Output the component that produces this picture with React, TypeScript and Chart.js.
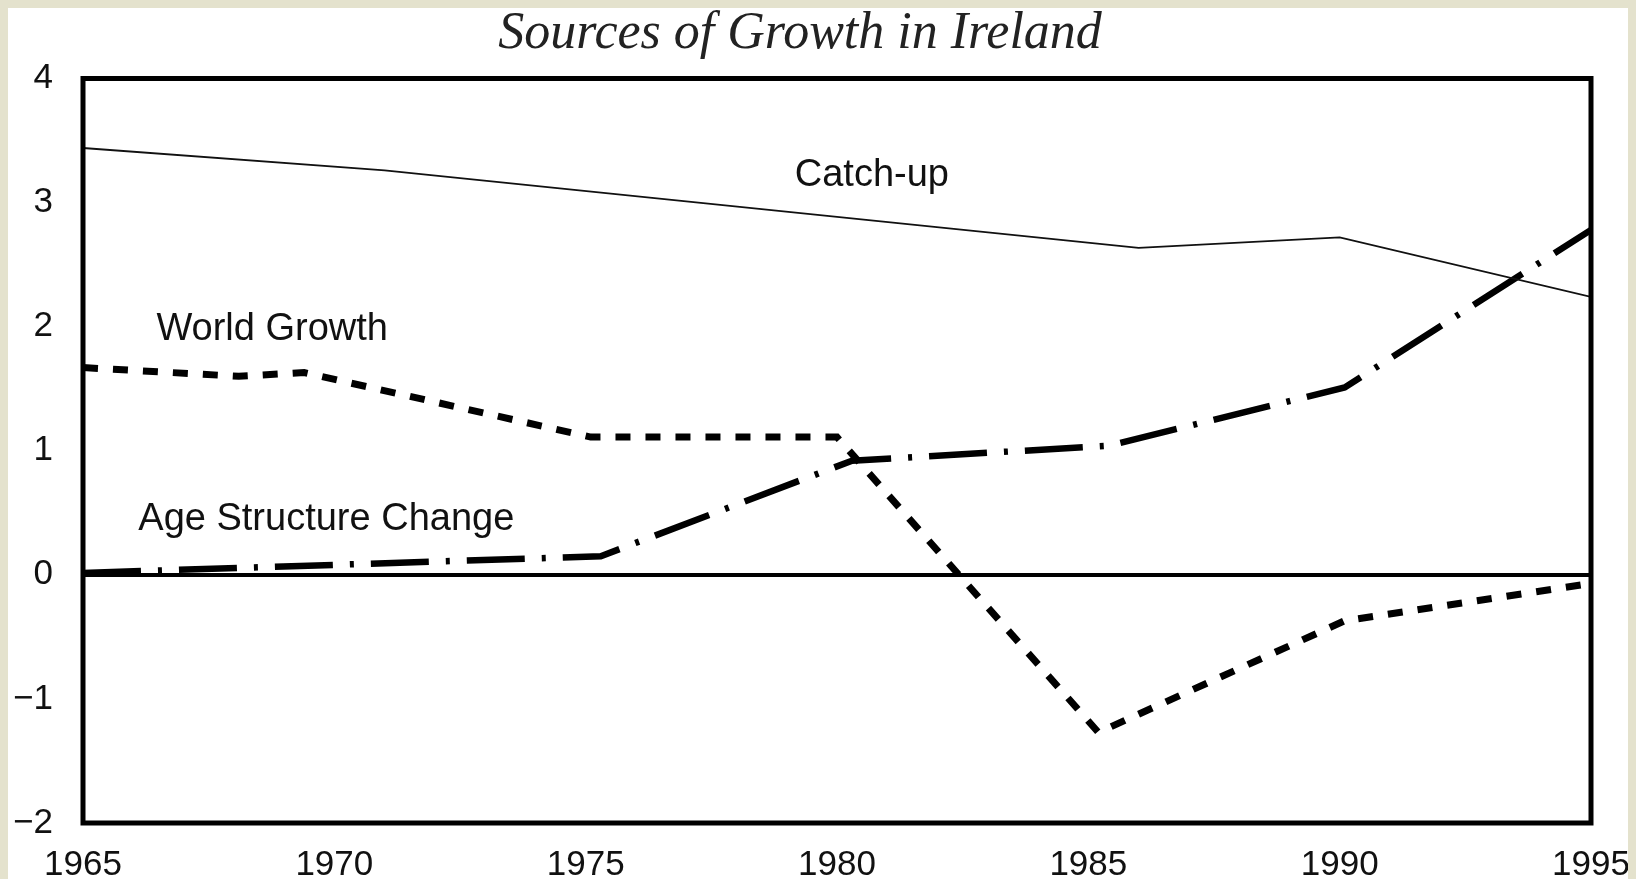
import React, { useEffect, useRef } from "react";
import { Chart, registerables } from "chart.js";

Chart.register(...registerables);

const chartTitle = "Sources of Growth in Ireland";

const xTickValues = [1965, 1970, 1975, 1980, 1985, 1990, 1995];
const yTickValues = [-2, -1, 0, 1, 2, 3, 4];
const yTickLabels = ["\u22122", "\u22121", "0", "1", "2", "3", "4"];

const catchUpYears = [1965, 1971, 1986, 1990, 1995];
const catchUpValues = [3.44, 3.26, 2.635, 2.72, 2.24];

const worldGrowthYears = [1965, 1968.1, 1969.4, 1975.1, 1980, 1985.2, 1990.1, 1995];
const worldGrowthValues = [1.67, 1.6, 1.63, 1.11, 1.11, -1.27, -0.37, -0.07];

const ageStructureYears = [1965, 1975.3, 1980.3, 1985.4, 1990.1, 1995];
const ageStructureValues = [0.015, 0.15, 0.92, 1.04, 1.51, 2.78];

const labelTexts = ["Catch-up", "World Growth", "Age Structure Change"];
const labelYears = [1979.16, 1966.46, 1966.1];
const labelValues = [3.137, 1.89, 0.36];

const toPoints = (xs: number[], ys: number[]) => xs.map((x, i) => ({ x, y: ys[i] }));

const decorPlugin = {
  id: "decor",
  afterDatasetsDraw(chart: any) {
    const { ctx, chartArea: a, scales } = chart;
    const x = scales.x;
    const y = scales.y;
    ctx.save();
    ctx.strokeStyle = "#000";
    ctx.lineWidth = 5;
    ctx.strokeRect(a.left, a.top, a.right - a.left, a.bottom - a.top);

    ctx.fillStyle = "#111";
    ctx.font = '38px "Liberation Sans", Arial, sans-serif';
    ctx.textAlign = "left";
    ctx.textBaseline = "alphabetic";
    labelTexts.forEach((t, i) => {
      ctx.fillText(t, x.getPixelForValue(labelYears[i]), y.getPixelForValue(labelValues[i]));
    });

    ctx.fillStyle = "#222";
    ctx.font = 'italic 52px "Liberation Serif", "Times New Roman", serif';
    ctx.textAlign = "center";
    ctx.fillText(chartTitle, (a.left + a.right) / 2 - 37, a.top - 31);
    ctx.restore();
  },
};

export default function App() {
  const canvasRef = useRef<HTMLCanvasElement | null>(null);

  useEffect(() => {
    document.body.style.background = "#e4e2cd";
    const canvas = canvasRef.current;
    if (!canvas) return;
    const chart = new Chart(canvas, {
      type: "line",
      data: {
        datasets: [
          {
            label: "Catch-up",
            data: toPoints(catchUpYears, catchUpValues),
            borderColor: "#111",
            borderWidth: 1.8,
            pointRadius: 0,
            tension: 0,
          },
          {
            label: "World Growth",
            data: toPoints(worldGrowthYears, worldGrowthValues),
            borderColor: "#000",
            borderWidth: 7,
            borderDash: [15, 15],
            borderCapStyle: "butt",
            pointRadius: 0,
            tension: 0,
          },
          {
            label: "Age Structure Change",
            data: toPoints(ageStructureYears, ageStructureValues),
            borderColor: "#000",
            borderWidth: 6.5,
            borderDash: [58, 17, 4, 17],
            borderCapStyle: "butt",
            pointRadius: 0,
            tension: 0,
          },
        ],
      },
      options: {
        responsive: false,
        animation: false,
        layout: { padding: { top: 70.5, right: 45, bottom: 0, left: 0 } },
        plugins: {
          legend: { display: false },
          title: { display: false },
          tooltip: { enabled: false },
        },
        scales: {
          x: {
            type: "linear",
            min: 1965,
            max: 1995,
            afterFit: (s: any) => {
              s.height = 56;
              s.paddingLeft = 0;
              s.paddingRight = 0;
            },
            afterBuildTicks: (s: any) => {
              s.ticks = xTickValues.map((v) => ({ value: v }));
            },
            ticks: {
              autoSkip: false,
              maxRotation: 0,
              padding: 21,
              color: "#111",
              font: { family: '"Liberation Sans", Arial, sans-serif', size: 35 },
              callback: (v: any) => String(v),
            },
            grid: { display: false, drawTicks: false },
            border: { display: false },
          },
          y: {
            type: "linear",
            min: -2,
            max: 4,
            afterFit: (s: any) => {
              s.width = 75;
              s.paddingTop = 0;
              s.paddingBottom = 0;
            },
            afterBuildTicks: (s: any) => {
              s.ticks = yTickValues.map((v) => ({ value: v }));
            },
            ticks: {
              autoSkip: false,
              padding: 30,
              color: "#111",
              font: { family: '"Liberation Sans", Arial, sans-serif', size: 35 },
              callback: (v: any) => {
                const i = yTickValues.indexOf(Number(v));
                return i >= 0 ? yTickLabels[i] : "";
              },
            },
            grid: {
              drawTicks: false,
              lineWidth: 4,
              color: (c: any) => (c.tick && c.tick.value === 0 ? "#000" : "rgba(0,0,0,0)"),
            },
            border: { display: false },
          },
        },
      },
      plugins: [decorPlugin],
    });
    return () => chart.destroy();
  }, []);

  return (
    <div style={{ width: 1628, height: 871, background: "#fff" }}>
      <canvas ref={canvasRef} width={1628} height={871} style={{ display: "block" }} />
    </div>
  );
}
